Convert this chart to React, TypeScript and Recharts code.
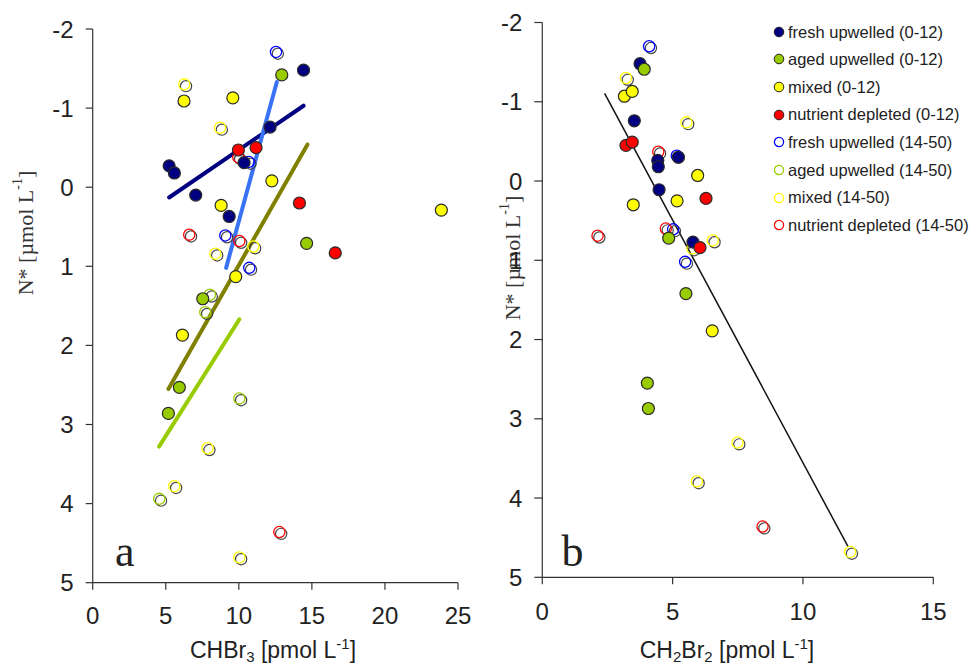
import React from 'react';
import { ScatterChart, Scatter, XAxis, YAxis, ReferenceLine, Legend, Label } from 'recharts';

const SANS = '"Liberation Sans", Arial, Helvetica, sans-serif';
const SERIF = '"Liberation Serif", "Times New Roman", Times, serif';

// ---------- tick labels ----------
const nStarTicks = [-2, -1, 0, 1, 2, 3, 4, 5];
const chbr3Ticks = [0, 5, 10, 15, 20, 25];
const ch2br2Ticks = [0, 5, 10, 15];

// ---------- panel a: CHBr3 vs N* ----------
const freshA = [
  { x: 14.43, y: -1.48 }, { x: 12.14, y: -0.76 }, { x: 10.36, y: -0.31 }, { x: 5.23, y: -0.27 },
  { x: 5.59, y: -0.18 }, { x: 7.05, y: 0.1 }, { x: 9.34, y: 0.37 },
];
const agedA = [
  { x: 12.94, y: -1.42 }, { x: 14.64, y: 0.71 }, { x: 7.53, y: 1.41 }, { x: 5.93, y: 2.53 }, { x: 5.18, y: 2.86 },
];
const mixedA = [
  { x: 6.25, y: -1.09 }, { x: 9.59, y: -1.13 }, { x: 12.26, y: -0.08 }, { x: 8.79, y: 0.23 },
  { x: 9.79, y: 1.13 }, { x: 6.14, y: 1.87 }, { x: 23.86, y: 0.29 },
];
const depletedA = [
  { x: 9.97, y: -0.47 }, { x: 11.18, y: -0.5 }, { x: 14.15, y: 0.2 }, { x: 16.6, y: 0.83 },
];
const freshDeepA = [
  { x: 12.6, y: -1.7 }, { x: 10.73, y: -0.31 }, { x: 9.13, y: 0.62 }, { x: 10.77, y: 1.03 },
];
const agedDeepA = [
  { x: 8.08, y: 1.37 }, { x: 7.76, y: 1.59 }, { x: 10.09, y: 2.68 }, { x: 4.61, y: 3.95 },
];
const mixedDeepA = [
  { x: 6.32, y: -1.29 }, { x: 8.77, y: -0.74 }, { x: 11.05, y: 0.76 }, { x: 8.45, y: 0.85 },
  { x: 7.92, y: 3.31 }, { x: 5.64, y: 3.79 }, { x: 10.09, y: 4.69 },
];
const depletedDeepA = [
  { x: 10.02, y: -0.37 }, { x: 6.66, y: 0.61 }, { x: 10.09, y: 0.69 }, { x: 12.83, y: 4.37 },
];
const freshFitA = [{ x: 5.23, y: 0.13 }, { x: 14.43, y: -1.03 }];
const freshDeepFitA = [{ x: 9.13, y: 1.02 }, { x: 12.6, y: -1.33 }];
const agedFitA = [{ x: 5.18, y: 2.55 }, { x: 14.7, y: -0.54 }];
const agedDeepFitA = [{ x: 4.54, y: 3.28 }, { x: 10.04, y: 1.67 }];

// ---------- panel b: CH2Br2 vs N* ----------
const freshB = [
  { x: 3.75, y: -1.48 }, { x: 3.53, y: -0.76 }, { x: 5.22, y: -0.3 }, { x: 4.43, y: -0.26 },
  { x: 4.45, y: -0.18 }, { x: 4.48, y: 0.11 }, { x: 5.78, y: 0.77 },
];
const agedB = [
  { x: 3.91, y: -1.41 }, { x: 4.85, y: 0.72 }, { x: 5.51, y: 1.42 }, { x: 4.03, y: 2.55 }, { x: 4.07, y: 2.87 },
];
const mixedB = [
  { x: 3.15, y: -1.07 }, { x: 3.45, y: -1.13 }, { x: 5.96, y: -0.07 }, { x: 5.17, y: 0.25 },
  { x: 3.49, y: 0.3 }, { x: 6.52, y: 1.89 },
];
const depletedB = [
  { x: 3.21, y: -0.45 }, { x: 3.45, y: -0.49 }, { x: 6.28, y: 0.22 }, { x: 6.05, y: 0.84 },
];
const freshDeepB = [
  { x: 4.13, y: -1.69 }, { x: 5.19, y: -0.31 }, { x: 5.05, y: 0.62 }, { x: 5.51, y: 1.03 },
];
const mixedDeepB = [
  { x: 3.24, y: -1.29 }, { x: 5.56, y: -0.73 }, { x: 6.57, y: 0.76 }, { x: 5.79, y: 0.86 },
  { x: 7.52, y: 3.31 }, { x: 5.96, y: 3.8 }, { x: 11.84, y: 4.69 },
];
const depletedDeepB = [
  { x: 4.48, y: -0.36 }, { x: 4.77, y: 0.61 }, { x: 2.15, y: 0.7 }, { x: 8.48, y: 4.37 },
];
const allFitB = [{ x: 2.39, y: -1.105 }, { x: 11.74, y: 4.62 }];

// ---------- colours ----------
const NAVY = '#000080';
const GREEN = '#99cc00';
const YELLOW = '#ffff00';
const RED = '#ff0000';
const BLUE = '#0000ff';
const FIT_BLUE = '#3a72f5';
const OLIVE = '#808000';

const legendItems = [
  { label: 'fresh upwelled (0-12)', color: NAVY, open: false },
  { label: 'aged upwelled (0-12)', color: GREEN, open: false },
  { label: 'mixed (0-12)', color: YELLOW, open: false },
  { label: 'nutrient depleted (0-12)', color: RED, open: false },
  { label: 'fresh upwelled (14-50)', color: BLUE, open: true },
  { label: 'aged upwelled (14-50)', color: GREEN, open: true },
  { label: 'mixed (14-50)', color: YELLOW, open: true },
  { label: 'nutrient depleted (14-50)', color: RED, open: true },
];

const filledDot = (color: string) => (props: any) => {
  const { cx, cy } = props;
  if (cx == null || cy == null) return <g />;
  return <circle cx={cx} cy={cy} r={6} fill={color} stroke="#2a2a2a" strokeWidth={1.2} />;
};

const openDot = (color: string) => (props: any) => {
  const { cx, cy } = props;
  if (cx == null || cy == null) return <g />;
  return (
    <g>
      <circle cx={cx + 1} cy={cy + 1} r={5.6} fill="none" stroke="#444" strokeWidth={1.2} />
      <circle cx={cx - 0.8} cy={cy - 0.8} r={5.6} fill="none" stroke={color} strokeWidth={1.3} />
    </g>
  );
};

const axisLine = { stroke: '#333', strokeWidth: 1.2 };
const tickStyle = { fill: '#222', fontSize: 24, fontFamily: SANS };

const yTitle = (dx: number, cy: number) => (props: any) => {
  const vb = props.viewBox || { x: 0, y: 0 };
  const x = vb.x + dx;
  return (
    <text
      x={x}
      y={cy}
      transform={`rotate(-90, ${x}, ${cy})`}
      textAnchor="middle"
      dominantBaseline="central"
      fontFamily={SERIF}
      fontSize={22}
      fill="#333"
    >
      N* [µmol L
      <tspan fontSize={14} dy={-8}>-1</tspan>
      <tspan dy={8}>]</tspan>
    </text>
  );
};

const xTitle = (cx: number, sub: boolean, letter: string, letterX: number) => (props: any) => {
  const baseY = 658;
  return (
    <g>
      <text x={cx} y={baseY} textAnchor="middle" fontFamily={SANS} fontSize={23} fill="#222">
        {sub ? 'CH' : 'CHBr'}
        <tspan fontSize={15} dy={4}>{sub ? '2' : '3'}</tspan>
        {sub ? <tspan dy={-4}>Br</tspan> : null}
        {sub ? <tspan fontSize={15} dy={4}>2</tspan> : null}
        <tspan dy={-4}> [pmol L</tspan>
        <tspan fontSize={15} dy={-9}>-1</tspan>
        <tspan dy={9}>]</tspan>
      </text>
      <text x={letterX} y={566} fontFamily={SERIF} fontSize={44} fill="#222">
        {letter}
      </text>
    </g>
  );
};

const LegendBox = () => (
  <div style={{ fontFamily: SANS, fontSize: 16.5, color: '#222', lineHeight: 1 }}>
    {legendItems.map((it) => (
      <div key={it.label} style={{ display: 'flex', alignItems: 'center', height: 27.65, whiteSpace: 'nowrap' }}>
        <svg width={14} height={14} style={{ display: 'block' }}>
          {it.open ? (
            <circle cx={7} cy={7} r={4.6} fill="none" stroke={it.color} strokeWidth={1.3} />
          ) : (
            <circle cx={7} cy={7} r={4.8} fill={it.color} stroke="#222" strokeWidth={1} />
          )}
        </svg>
        <span style={{ marginLeft: 2 }}>{it.label}</span>
      </div>
    ))}
  </div>
);

export default function App() {
  return (
    <div style={{ position: 'absolute', left: 0, top: 0, width: 972, height: 667, background: '#fff' }}>
      <div style={{ position: 'absolute', left: 0, top: 0 }}>
        <ScatterChart width={480} height={667} margin={{ top: 29, right: 22, bottom: 0, left: 0 }}>
          <XAxis
            type="number"
            dataKey="x"
            domain={[0, 25]}
            ticks={chbr3Ticks}
            interval={0}
            height={84.3}
            tickSize={7}
            tickMargin={17}
            axisLine={axisLine}
            tickLine={axisLine}
            tick={tickStyle}
          >
            <Label content={xTitle(273, false, 'a', 115)} />
          </XAxis>
          <YAxis
            type="number"
            dataKey="y"
            domain={[-2, 5]}
            reversed
            ticks={nStarTicks}
            interval={0}
            width={92.7}
            tickSize={7}
            tickMargin={12}
            axisLine={axisLine}
            tickLine={axisLine}
            tick={tickStyle}
          >
            <Label content={yTitle(25, 233)} />
          </YAxis>
          <ReferenceLine segment={freshFitA} stroke={NAVY} strokeWidth={4} strokeLinecap="round" ifOverflow="visible" />
          <ReferenceLine segment={freshDeepFitA} stroke={FIT_BLUE} strokeWidth={4} strokeLinecap="round" ifOverflow="visible" />
          <ReferenceLine segment={agedFitA} stroke={OLIVE} strokeWidth={4} strokeLinecap="round" ifOverflow="visible" />
          <ReferenceLine segment={agedDeepFitA} stroke={GREEN} strokeWidth={4} strokeLinecap="round" ifOverflow="visible" />
          <Scatter name="fresh upwelled (14-50)" data={freshDeepA} shape={openDot(BLUE)} isAnimationActive={false} />
          <Scatter name="aged upwelled (14-50)" data={agedDeepA} shape={openDot(GREEN)} isAnimationActive={false} />
          <Scatter name="mixed (14-50)" data={mixedDeepA} shape={openDot(YELLOW)} isAnimationActive={false} />
          <Scatter name="nutrient depleted (14-50)" data={depletedDeepA} shape={openDot(RED)} isAnimationActive={false} />
          <Scatter name="fresh upwelled (0-12)" data={freshA} shape={filledDot(NAVY)} isAnimationActive={false} />
          <Scatter name="aged upwelled (0-12)" data={agedA} shape={filledDot(GREEN)} isAnimationActive={false} />
          <Scatter name="mixed (0-12)" data={mixedA} shape={filledDot(YELLOW)} isAnimationActive={false} />
          <Scatter name="nutrient depleted (0-12)" data={depletedA} shape={filledDot(RED)} isAnimationActive={false} />
        </ScatterChart>
      </div>
      <div style={{ position: 'absolute', left: 480, top: 0 }}>
        <ScatterChart width={492} height={667} margin={{ top: 22.5, right: 38.7, bottom: 0, left: 0 }}>
          <XAxis
            type="number"
            dataKey="x"
            domain={[0, 15]}
            ticks={ch2br2Ticks}
            interval={0}
            height={89.7}
            tickSize={7}
            tickMargin={19}
            axisLine={axisLine}
            tickLine={axisLine}
            tick={tickStyle}
          >
            <Label content={xTitle(247, true, 'b', 81.5)} />
          </XAxis>
          <YAxis
            type="number"
            dataKey="y"
            domain={[-2, 5]}
            reversed
            ticks={nStarTicks}
            interval={0}
            width={62.3}
            tickSize={8}
            tickMargin={12}
            axisLine={axisLine}
            tickLine={axisLine}
            tick={tickStyle}
          >
            <Label content={yTitle(32, 258)} />
          </YAxis>
          <Legend
            layout="vertical"
            align="center"
            verticalAlign="middle"
            wrapperStyle={{ position: 'absolute', left: 292, top: 18, width: 200 }}
            content={() => <LegendBox />}
          />
          <ReferenceLine segment={allFitB} stroke="#111" strokeWidth={1.5} ifOverflow="visible" />
          <Scatter name="fresh upwelled (14-50)" data={freshDeepB} shape={openDot(BLUE)} isAnimationActive={false} />
          <Scatter name="mixed (14-50)" data={mixedDeepB} shape={openDot(YELLOW)} isAnimationActive={false} />
          <Scatter name="nutrient depleted (14-50)" data={depletedDeepB} shape={openDot(RED)} isAnimationActive={false} />
          <Scatter name="fresh upwelled (0-12)" data={freshB} shape={filledDot(NAVY)} isAnimationActive={false} />
          <Scatter name="aged upwelled (0-12)" data={agedB} shape={filledDot(GREEN)} isAnimationActive={false} />
          <Scatter name="mixed (0-12)" data={mixedB} shape={filledDot(YELLOW)} isAnimationActive={false} />
          <Scatter name="nutrient depleted (0-12)" data={depletedB} shape={filledDot(RED)} isAnimationActive={false} />
        </ScatterChart>
      </div>
    </div>
  );
}
